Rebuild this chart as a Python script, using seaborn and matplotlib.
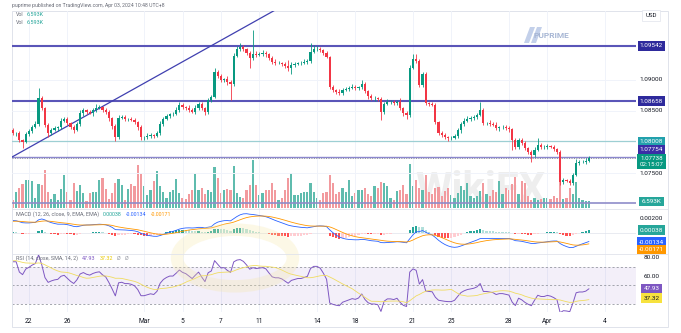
import numpy as np
import pandas as pd
import matplotlib
matplotlib.use("Agg")
import matplotlib.pyplot as plt
import seaborn as sns
from matplotlib.patches import Rectangle, Circle, Polygon
from matplotlib.transforms import blended_transform_factory

# ---------------------------------------------------------------------------
# EURUSD, 4-hour candles, 21 Feb - 3 Apr 2024
# ---------------------------------------------------------------------------
# closes of 14-20 Feb, before the visible window; they only seed MACD and RSI
prior_close = [
    1.07120, 1.07180, 1.07090, 1.07150, 1.07260, 1.07310,
    1.07280, 1.07350, 1.07420, 1.07390, 1.07460, 1.07520,
    1.07600, 1.07680, 1.07640, 1.07720, 1.07690, 1.07740,
    1.07780, 1.07710, 1.07760, 1.07820, 1.07790, 1.07760,
    1.07830, 1.07790, 1.07860, 1.07810, 1.07880, 1.07940,
    1.07990, 1.08060, 1.08110, 1.08080, 1.08150, 1.08190,
]
first_open = 1.08190
close = [
    1.08144, 1.08144, 1.08031, 1.07999, 1.08128, 1.08176, 1.08240, 1.08289, 1.08706, 1.08546,
    1.08273, 1.08144, 1.08192, 1.08224, 1.08240, 1.08337, 1.08369, 1.08305, 1.08240, 1.08192,
    1.08289, 1.08465, 1.08514, 1.08481, 1.08465, 1.08514, 1.08546, 1.08562, 1.08514, 1.08481,
    1.08385, 1.08256, 1.08080, 1.08385, 1.08401, 1.08369, 1.08369, 1.08353, 1.08321, 1.08240,
    1.08080, 1.08080, 1.08096, 1.08112, 1.08096, 1.08144, 1.08289, 1.08369, 1.08417, 1.08449,
    1.08449, 1.08514, 1.08594, 1.08562, 1.08546, 1.08514, 1.08481, 1.08546, 1.08610, 1.08546,
    1.08481, 1.08674, 1.08722, 1.09124, 1.09060, 1.08996, 1.09012, 1.08964, 1.08931, 1.09381,
    1.09494, 1.09526, 1.09494, 1.09430, 1.09349, 1.09413, 1.09397, 1.09413, 1.09430, 1.09413,
    1.09349, 1.09285, 1.09269, 1.09269, 1.09253, 1.09221, 1.09188, 1.09237, 1.09253, 1.09269,
    1.09269, 1.09285, 1.09301, 1.09446, 1.09494, 1.09494, 1.09478, 1.09430, 1.09365, 1.08883,
    1.08835, 1.08803, 1.08787, 1.08835, 1.08851, 1.08867, 1.08883, 1.08867, 1.08883, 1.08931,
    1.08819, 1.08739, 1.08706, 1.08706, 1.08690, 1.08481, 1.08610, 1.08642, 1.08642, 1.08626,
    1.08642, 1.08546, 1.08465, 1.08433, 1.09188, 1.09333, 1.09301, 1.08915, 1.09092, 1.08626,
    1.08610, 1.08594, 1.08321, 1.08144, 1.08112, 1.08080, 1.08064, 1.08064, 1.08096, 1.08192,
    1.08289, 1.08337, 1.08369, 1.08385, 1.08401, 1.08433, 1.08514, 1.08305, 1.08305, 1.08289,
    1.08273, 1.08224, 1.08240, 1.08240, 1.08224, 1.08208, 1.08031, 1.07919, 1.08031, 1.07983,
    1.07903, 1.07839, 1.07790, 1.07871, 1.07951, 1.07919, 1.07919, 1.07935, 1.07919, 1.07887,
    1.07839, 1.07356, 1.07388, 1.07372, 1.07340, 1.07469, 1.07662, 1.07678, 1.07678, 1.07694,
    1.07738,
]
# wick lengths beyond the body, in pips
upper_wick = [
    3, 2, 4, 2, 3, 4, 3, 5, 16, 4,
    2, 3, 4, 3, 2, 5, 4, 3, 2, 4,
    3, 5, 3, 2, 4, 3, 6, 3, 2, 3,
    4, 2, 3, 5, 4, 3, 2, 3, 4, 2,
    3, 2, 4, 3, 2, 3, 5, 3, 4, 2,
    3, 4, 5, 3, 2, 4, 3, 5, 4, 3,
    2, 4, 3, 6, 4, 3, 2, 4, 3, 5,
    4, 6, 3, 2, 3, 39, 5, 3, 4, 3,
    2, 3, 4, 3, 2, 3, 10, 4, 3, 2,
    3, 4, 3, 14, 6, 4, 3, 2, 3, 2,
    3, 2, 4, 3, 4, 3, 5, 3, 2, 6,
    3, 2, 3, 4, 2, 3, 4, 5, 3, 4,
    3, 6, 2, 3, 5, 8, 8, 3, 4, 3,
    2, 4, 3, 2, 3, 4, 2, 3, 3, 4,
    3, 4, 5, 3, 4, 3, 13, 3, 2, 4,
    3, 4, 2, 3, 4, 3, 2, 4, 3, 4,
    3, 2, 3, 5, 11, 3, 4, 3, 2, 3,
    2, 3, 4, 2, 3, 4, 6, 4, 3, 5,
    3,
]
lower_wick = [
    4, 5, 3, 10, 2, 3, 4, 2, 3, 3,
    4, 6, 3, 2, 4, 3, 2, 4, 3, 5,
    2, 3, 4, 3, 2, 4, 3, 2, 4, 3,
    5, 4, 6, 3, 2, 4, 3, 2, 3, 4,
    5, 5, 3, 4, 3, 2, 3, 4, 2, 3,
    3, 2, 4, 3, 4, 3, 2, 3, 3, 4,
    5, 3, 4, 2, 3, 4, 3, 5, 26, 3,
    2, 3, 4, 3, 16, 3, 4, 2, 3, 4,
    3, 4, 3, 2, 4, 3, 5, 10, 3, 2,
    3, 2, 4, 3, 2, 3, 4, 3, 2, 3,
    4, 3, 4, 3, 2, 3, 2, 4, 3, 3,
    4, 5, 3, 4, 3, 13, 3, 2, 4, 3,
    3, 4, 5, 6, 3, 2, 4, 3, 3, 4,
    3, 2, 4, 3, 4, 3, 5, 3, 2, 3,
    4, 3, 2, 3, 4, 3, 2, 3, 4, 3,
    2, 3, 4, 3, 3, 4, 16, 3, 4, 3,
    3, 4, 11, 3, 2, 3, 4, 3, 2, 3,
    3, 4, 3, 2, 3, 3, 2, 3, 2, 3,
    2,
]
volume_k = [
    8, 16, 20, 24, 28, 28, 27, 10, 24, 23,
    38, 16, 9, 14, 8, 19, 33, 16, 8, 25,
    17, 23, 15, 7, 15, 16, 16, 28, 30, 19,
    9, 15, 25, 29, 23, 8, 19, 24, 22, 43,
    34, 22, 13, 18, 27, 37, 22, 16, 10, 16,
    18, 29, 15, 10, 9, 14, 18, 34, 18, 20,
    14, 18, 16, 41, 30, 15, 18, 19, 18, 42,
    15, 11, 10, 18, 23, 48, 23, 13, 15, 18,
    18, 25, 18, 8, 10, 18, 30, 35, 13, 13,
    15, 16, 16, 25, 16, 10, 8, 15, 16, 33,
    25, 14, 16, 20, 16, 28, 12, 15, 18, 18,
    20, 14, 12, 22, 20, 26, 25, 22, 10, 8,
    17, 18, 23, 14, 44, 22, 28, 20, 18, 33,
    16, 14, 20, 21, 12, 17, 20, 13, 10, 15,
    22, 18, 25, 12, 10, 12, 17, 25, 14, 12,
    18, 16, 27, 14, 20, 18, 24, 31, 14, 27,
    25, 12, 8, 10, 8, 9, 10, 10, 9, 12,
    10, 27, 9, 10, 20, 14, 26, 10, 8, 7,
    6.593,
]

# session ticks (candle index of each day start) and their labels
tick_idx = [5, 17, 41, 53, 65, 77, 95, 107, 125, 137, 155, 167, 185]
tick_labels = ["22", "26", "Mar", "5", "7", "11", "14", "18", "21", "25", "28", "Apr", "4"]

# drawings
resistance_levels = [1.09542, 1.08658]
support_level = 1.08008
pivot_level = 1.07754
floor_level = 1.07020
trend_idx = [-0.3, 82.0]
trend_price = [1.07758, 1.10121]

price_scale_ticks = [1.09000, 1.08500, 1.07500]
last_price = 1.07738
countdown = "02:15:07"
volume_text = "6.593K"
macd_values = [0.00038, -0.00134, -0.00171]
rsi_values = [47.93, 37.32]

# ---------------------------------------------------------------------------
sns.set_theme(style="white")
plt.rcParams["font.family"] = ["Roboto", "DejaVu Sans"]

UP, DOWN = "#089981", "#f23645"
TXT = "#131722"
MUTED = "#6a6d78"
GRID = "#f0f3fa"
LEVEL = "#5a55b8"
LEVEL_TAG = "#2e2a9c"

c = np.array(close)
o = np.concatenate([[first_open], c[:-1]])
hi = np.maximum(o, c) + np.array(upper_wick) * 1e-4
lo = np.minimum(o, c) - np.array(lower_wick) * 1e-4
idx = np.arange(len(c))
rising = c >= o

df = pd.DataFrame({"i": idx, "open": o, "close": c, "high": hi, "low": lo,
                   "vol": volume_k})

# indicators, seeded with the earlier closes
n_prior = len(prior_close)
s = pd.Series(prior_close + close)
macd = s.ewm(span=12, adjust=False).mean() - s.ewm(span=26, adjust=False).mean()
signal = macd.ewm(span=9, adjust=False).mean()
hist = macd - signal
delta = s.diff()
gain = delta.clip(lower=0).ewm(alpha=1 / 14, adjust=False).mean()
loss = (-delta.clip(upper=0)).ewm(alpha=1 / 14, adjust=False).mean()
rsi = 100 - 100 / (1 + gain / loss)
rsi_ma = rsi.rolling(14).mean()
df["macd"] = macd.iloc[n_prior:].to_numpy()
df["signal"] = signal.iloc[n_prior:].to_numpy()
df["hist"] = hist.iloc[n_prior:].to_numpy()
df["rsi"] = rsi.iloc[n_prior:].to_numpy()
df["rsi_ma"] = rsi_ma.iloc[n_prior:].to_numpy()

# ---------------------------------------------------------------------------
W, H = 681, 333
fig = plt.figure(figsize=(W / 100, H / 100), dpi=100)
fig.patch.set_facecolor("white")


def box(x0, y0, x1, y1):
    return [x0 / W, 1 - y1 / H, (x1 - x0) / W, (y1 - y0) / H]


X0, X1 = 12, 636
ax_v = fig.add_axes(box(X0, 140, X1, 208))
ax_p = fig.add_axes(box(X0, 11, X1, 209), sharex=ax_v)
ax_m = fig.add_axes(box(X0, 209, X1, 254), sharex=ax_v)
ax_r = fig.add_axes(box(X0, 254, X1, 312), sharex=ax_v)
ax_v.set_zorder(1)
ax_p.set_zorder(2)
ax_p.patch.set_alpha(0)

for a in (ax_v, ax_p, ax_m, ax_r):
    for sp in a.spines.values():
        sp.set_visible(False)
    a.set_yticks([])
    a.tick_params(axis="x", length=0, labelbottom=False)
    a.grid(False)
ax_v.patch.set_alpha(0)

ax_p.set_xlim(-0.3, 194.7)
ax_p.set_ylim(1.06923, 1.10104)
ax_v.set_ylim(0, 68)
ax_m.set_ylim(-0.00305, 0.00339)
ax_r.set_ylim(21.35, 84.05)

# faint grid
for a in (ax_p, ax_m, ax_r):
    for t in tick_idx:
        a.axvline(t, color=GRID, lw=0.7, zorder=0)
for p in price_scale_ticks:
    ax_p.axhline(p, color=GRID, lw=0.7, zorder=0)

# watermarks
fig.text(480 / W, 1 - 190 / H, "WikiFX", fontsize=30, fontweight="bold",
         color="#e3e3e3", alpha=0.6, ha="center", va="center", zorder=0)
fig.patches.append(Circle((235 / W, 1 - 258 / H), 0.085, transform=fig.transFigure,
                          facecolor="none", edgecolor="#f6e7a6", lw=9, alpha=0.28, zorder=0))
fig.text(551 / W, 1 - 35 / H, "PUPRIME", fontsize=6, fontweight="bold",
         color="#a7b6d4", ha="center", va="center")
for dx in (0, 7):
    fig.patches.append(Polygon([((524 + dx) / W, 1 - 43 / H), ((529 + dx) / W, 1 - 43 / H),
                                ((535 + dx) / W, 1 - 27 / H), ((530 + dx) / W, 1 - 27 / H)],
                               closed=True, transform=fig.transFigure,
                               facecolor="#c3d0ea", edgecolor="none"))

# volume
vcol = np.where(rising, "#5fbcae", "#f29a9e")
ax_v.bar(df["i"], df["vol"], width=0.7, color=vcol, linewidth=0)

# candles
ax_p.vlines(df["i"], df["low"], df["high"], colors=np.where(rising, UP, DOWN), lw=0.6, zorder=3)
body_lo = np.minimum(o, c)
body_h = np.maximum(np.abs(c - o), 0.00003)
ax_p.bar(df["i"], body_h, bottom=body_lo, width=0.68, color=np.where(rising, UP, DOWN),
         linewidth=0, zorder=4)

# drawings
for lv in resistance_levels:
    ax_p.axhline(lv, color=LEVEL, lw=1.5, zorder=2)
ax_p.axhline(support_level, color="#9dcfd3", lw=0.9, zorder=2)
ax_p.axhline(pivot_level, color=LEVEL, lw=1.0, alpha=0.7, zorder=2)
ax_p.axhline(last_price, color="#8a8d98", lw=0.7, ls=(0, (1, 1.5)), zorder=2)
ax_p.axhline(floor_level, color="#8f8cc9", lw=1.2, zorder=2)
ax_p.plot(trend_idx, trend_price, color="#4040b0", lw=0.9, zorder=2)

# MACD pane
ax_m.axhline(0, color="#e0e3eb", lw=0.5, zorder=0)
h = df["hist"]
prev = h.shift(1).fillna(h.iloc[0])
hcol = np.where(h >= 0, np.where(h >= prev, "#26a69a", "#b2dfdb"),
                np.where(h < prev, "#ff5252", "#ffcdd2"))
ax_m.bar(df["i"], h, width=0.7, color=hcol, linewidth=0)
sns.lineplot(data=df, x="i", y="macd", ax=ax_m, color="#2962ff", lw=0.6)
sns.lineplot(data=df, x="i", y="signal", ax=ax_m, color="#ff9800", lw=0.6)

# RSI pane
ax_r.axhspan(30, 70, color="#7e57c2", alpha=0.09, lw=0)
for lv in (70, 50, 30):
    ax_r.axhline(lv, color="#9598a1", lw=0.6, ls=(0, (2.5, 2.5)))
sns.lineplot(data=df, x="i", y="rsi", ax=ax_r, color="#7e57c2", lw=0.7)
sns.lineplot(data=df, x="i", y="rsi_ma", ax=ax_r, color="#f0dc60", lw=0.6)

for a in (ax_v, ax_p, ax_m, ax_r):
    a.set_xlabel("")
    a.set_ylabel("")
    a.set_yticks([])

# date axis
ax_r.set_xticks(tick_idx)
ax_r.set_xticklabels(tick_labels)
ax_r.tick_params(axis="x", labelbottom=True, length=0, pad=4.5, labelsize=4.8,
                 labelcolor=TXT)
ax_p.set_xlim(-0.3, 194.7)

# pane separators and frame
for yy in (209, 254):
    fig.add_artist(plt.Line2D([X0 / W, 668 / W], [1 - yy / H, 1 - yy / H],
                              color="#e0e3eb", lw=0.6))
fig.patches.append(Rectangle((X0 / W, 1 - 327 / H), (668 - X0) / W, (327 - 11) / H,
                             transform=fig.transFigure, fill=False,
                             edgecolor="#e0e3eb", lw=0.7))


# right-hand scale tags
def tag(ax, value, text, fc=None, tc="white", dy=0, fs=4.6):
    tr = blended_transform_factory(ax.transAxes, ax.transData)
    kw = {}
    if fc is not None:
        kw["bbox"] = dict(boxstyle="square,pad=0.35", fc=fc, ec="none")
    ax.annotate(text, xy=(1, value), xycoords=tr, xytext=(15.5, dy),
                textcoords="offset pixels", ha="center", va="center",
                fontsize=fs, color=tc, annotation_clip=False, **kw)


for lv in resistance_levels:
    tag(ax_p, lv, f"{lv:.5f}", LEVEL_TAG)
for p in price_scale_ticks:
    tag(ax_p, p, f"{p:.5f}", tc=TXT)
tag(ax_p, support_level, f"{support_level:.5f}", "#22a1ac")
tag(ax_p, pivot_level, f"{pivot_level:.5f}", "#3b2ea6", dy=8)
tag(ax_p, last_price, f"{last_price:.5f}\n{countdown}", UP, dy=-3, fs=4.4)
tag(ax_v, volume_k[-1], volume_text, "#26a69a", dy=0)

tag(ax_m, 0.00200, "0.00200", tc=TXT)
tag(ax_m, macd_values[0], f"{macd_values[0]:.5f}", "#26a69a")
tag(ax_m, macd_values[1], f"{macd_values[1]:.5f}", "#2962ff")
tag(ax_m, macd_values[2], f"{macd_values[2]:.5f}", "#ff9800", dy=-5)

tag(ax_r, 80, "80.00", tc=TXT)
tag(ax_r, 60, "60.00", tc=TXT)
tag(ax_r, rsi_values[0], f"{rsi_values[0]:.2f}", "#7e57c2", dy=-1)
tag(ax_r, rsi_values[1], f"{rsi_values[1]:.2f}", "#f7e23e", tc=TXT, dy=-1)

fig.text(651 / W, 1 - 15.5 / H, "USD", fontsize=4.4, color=TXT, ha="center", va="center",
         bbox=dict(boxstyle="square,pad=0.5", fc="white", ec="#e0e3eb", lw=0.5))

# header and legends
fig.text(12 / W, 1 - 5 / H, "puprime published on TradingView.com, Apr 03, 2024 10:48 UTC+8",
         fontsize=3.7, color=MUTED, ha="left", va="center")
renderer = fig.canvas.get_renderer()


def legend_row(y, parts, x=16, gap=4):
    xx = x
    for text, col in parts:
        t = fig.text(xx / W, 1 - y / H, text, fontsize=3.9, color=col, ha="left", va="center")
        xx += t.get_window_extent(renderer).width + gap


for yy in (15, 22):
    legend_row(yy, [("Vol", MUTED), (volume_text, "#26a69a")], gap=3)

legend_row(214, [("MACD (12, 26, close, 9, EMA, EMA)", MUTED),
                 (f"{macd_values[0]:.5f}", "#26a69a"),
                 (f"{macd_values[1]:.5f}", "#2962ff"),
                 (f"{macd_values[2]:.5f}", "#ff9800")])
legend_row(258, [("RSI (14, close, SMA, 14, 2)", MUTED),
                 (f"{rsi_values[0]:.2f}", "#7e57c2"),
                 (f"{rsi_values[1]:.2f}", "#e8c800"),
                 ("\u00d8", "#9598a1"), ("\u00d8", "#9598a1")])

fig.savefig("out.png", dpi=100, facecolor="white")
